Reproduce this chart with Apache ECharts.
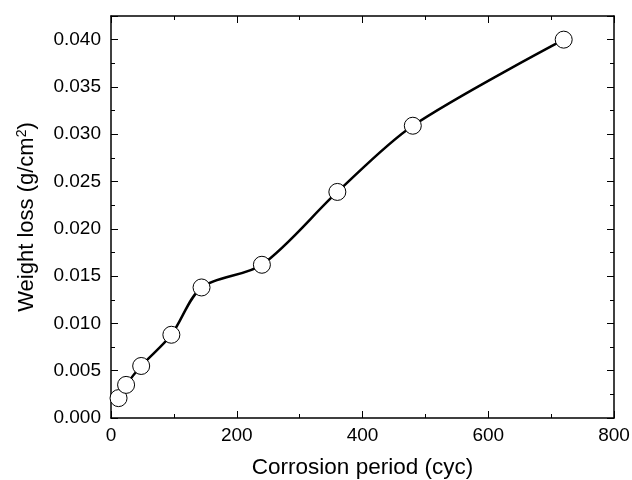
<!DOCTYPE html>
<html><head><meta charset="utf-8">
<script src="https://cdn.jsdelivr.net/npm/echarts@6/dist/echarts.min.js"></script>
<style>html,body{margin:0;padding:0;background:#fff}#c{width:632px;height:480px}</style>
</head><body><div id="c"></div>
<script>
const cycles = [12, 24, 48, 96, 144, 240, 360, 480, 720];
const weightLoss = [0.0021, 0.0035, 0.0055, 0.0088, 0.0138, 0.0162, 0.0239, 0.0309, 0.0400];
const xTitle = 'Corrosion period (cyc)';
const yTitle = 'Weight loss (g/cm';

const chart = echarts.init(document.getElementById('c'));
const font = 'Liberation Sans, Arial, sans-serif';
const axisCommon = {
  axisLine: {show: true, onZero: false, lineStyle: {color: '#000', width: 1.5}},
  axisTick: {show: true, inside: true, length: 7, lineStyle: {color: '#000', width: 1}},
  minorTick: {show: true, splitNumber: 2, length: 4, lineStyle: {color: '#000', width: 1}},
  splitLine: {show: false}
};
chart.setOption({
  animation: false,
  backgroundColor: '#fff',
  grid: {left: 111, right: 18, top: 16, bottom: 62, containLabel: false, outerBoundsMode: 'none'},
  xAxis: [
    Object.assign({type: 'value', min: 0, max: 800, interval: 200, position: 'bottom',
      name: xTitle, nameLocation: 'middle', nameGap: 38,
      nameTextStyle: {fontFamily: font, fontSize: 22.5, color: '#000'},
      axisLabel: {fontFamily: font, fontSize: 19, color: '#000', margin: 8}}, axisCommon),
    Object.assign({type: 'value', min: 0, max: 800, interval: 200, position: 'top',
      axisLabel: {show: false}}, axisCommon)
  ],
  yAxis: [
    Object.assign({type: 'value', min: 0, max: 0.0425, interval: 0.005, position: 'left',
      name: '{a|' + yTitle + '}{s|2}{a|)}', nameLocation: 'middle', nameGap: 72, nameRotate: 90,
      nameTextStyle: {rich: {
        a: {fontFamily: font, fontSize: 22, color: '#000'},
        s: {fontFamily: font, fontSize: 14, color: '#000', verticalAlign: 'top', padding: [0,0,10,0]}
      }},
      axisLabel: {fontFamily: font, fontSize: 19, color: '#000', margin: 10,
        formatter: v => v > 0.0401 ? '' : v.toFixed(3)}}, axisCommon),
    Object.assign({type: 'value', min: 0, max: 0.0425, interval: 0.005, position: 'right',
      axisLabel: {show: false}}, axisCommon)
  ],
  series: [{
    type: 'line',
    data: cycles.map((c, i) => [c, weightLoss[i]]),
    smooth: 0.3,
    symbol: 'circle',
    symbolSize: 17,
    lineStyle: {color: '#000', width: 2.5},
    itemStyle: {color: '#fff', borderColor: '#000', borderWidth: 1},
    z: 3
  }]
});
</script></body></html>
